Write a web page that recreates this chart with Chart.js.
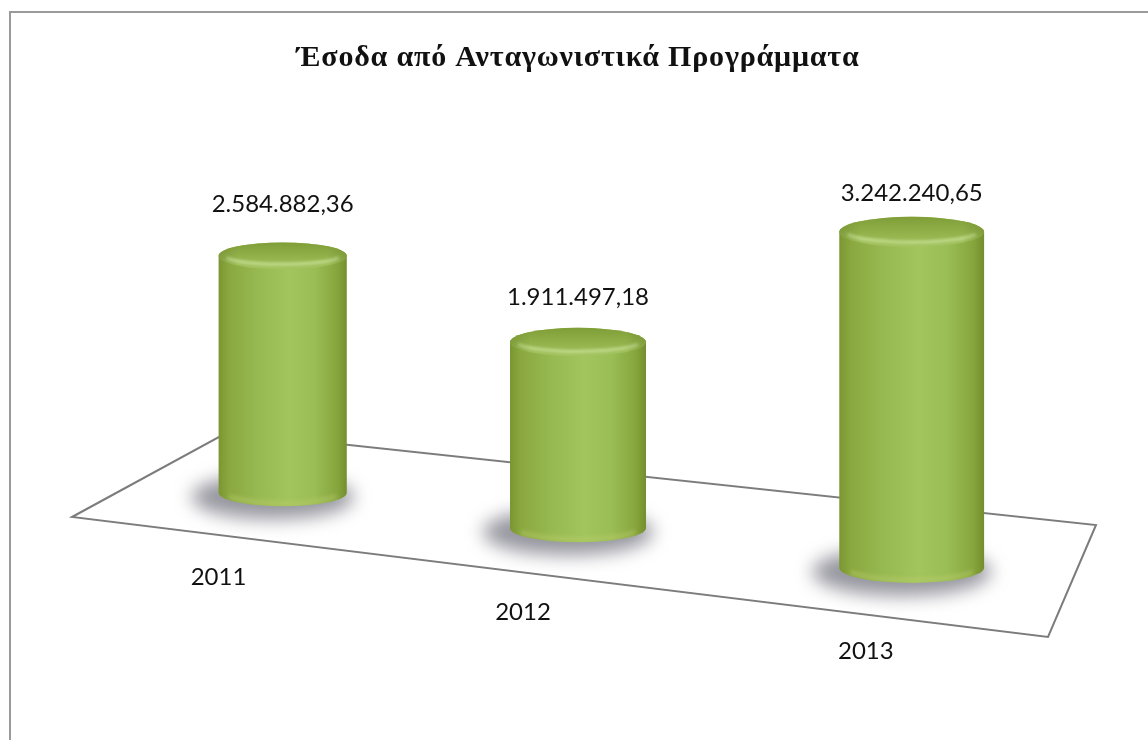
<!DOCTYPE html>
<html lang="el">
<head>
<meta charset="utf-8">
<title>Έσοδα από Ανταγωνιστικά Προγράμματα</title>
<script src="https://cdn.jsdelivr.net/npm/chart.js@4.4.1/dist/chart.umd.min.js"></script>
<style>
  html, body { margin: 0; padding: 0; background: #ffffff; }
  #wrap { position: relative; width: 1148px; height: 740px; }
</style>
</head>
<body>
<div id="wrap"><canvas id="chart"></canvas></div>
<script>
// Revenue per year
const years = ['2011', '2012', '2013'];
const revenue = [2584882.36, 1911497.18, 3242240.65];
const titleText = 'Έσοδα από Ανταγωνιστικά Προγράμματα';
const yMax = 4000000;

// Greek number format: 2.584.882,36
function formatEl(v) {
  const [intPart, dec] = v.toFixed(2).split('.');
  return intPart.replace(/\B(?=(\d{3})+(?!\d))/g, '.') + ',' + dec;
}

// Simple perspective: the row of cylinders recedes toward the left.
const VIEW = {
  depthSlope: 1.947e-4,   // depth change per pixel along the row
  horizonY: -84,          // vanishing height of the floor
  ellipse: 0.105,         // ellipse height / cylinder width
  floor: [[72, 517], [228, 432], [1096, 525], [1048, 637]]
};

function drawFrame(ctx) {
  ctx.save();
  ctx.strokeStyle = '#9a9a9a';
  ctx.lineWidth = 2;
  ctx.strokeRect(10, 12, 1200, 800);
  ctx.restore();
}

function drawFloor(ctx) {
  const f = VIEW.floor;
  ctx.save();
  ctx.beginPath();
  ctx.moveTo(f[0][0], f[0][1]);
  for (let i = 1; i < f.length; i++) ctx.lineTo(f[i][0], f[i][1]);
  ctx.closePath();
  ctx.fillStyle = '#ffffff';
  ctx.fill();
  ctx.strokeStyle = '#7c7c7c';
  ctx.lineWidth = 2;
  ctx.lineJoin = 'miter';
  ctx.stroke();
  ctx.restore();
}

function drawCylinder(ctx, cx, by, w, h) {
  const rx = w / 2, ry = w * VIEW.ellipse;
  const ty = by - h;

  // soft shadow on the floor
  ctx.save();
  ctx.filter = 'blur(9px)';
  ctx.fillStyle = 'rgba(105,105,118,0.7)';
  ctx.beginPath();
  ctx.ellipse(cx - 10, by + 4, rx + 17, ry + 9, 0, 0, Math.PI * 2);
  ctx.fill();
  ctx.restore();

  // body
  const g = ctx.createLinearGradient(cx - rx, 0, cx + rx, 0);
  g.addColorStop(0.00, '#7a9632');
  g.addColorStop(0.08, '#8aa83f');
  g.addColorStop(0.30, '#97b951');
  g.addColorStop(0.55, '#a2c55e');
  g.addColorStop(0.75, '#9abd55');
  g.addColorStop(0.93, '#86a43c');
  g.addColorStop(1.00, '#738f2d');
  ctx.save();
  ctx.beginPath();
  ctx.moveTo(cx - rx, ty);
  ctx.lineTo(cx - rx, by);
  ctx.ellipse(cx, by, rx, ry, 0, Math.PI, 0, true);
  ctx.lineTo(cx + rx, ty);
  ctx.ellipse(cx, ty, rx, ry, 0, 0, Math.PI, true);
  ctx.closePath();
  ctx.fillStyle = g;
  ctx.fill();

  // warm rim along the bottom edge
  ctx.clip();
  ctx.filter = 'blur(2px)';
  ctx.strokeStyle = 'rgba(190,205,110,0.55)';
  ctx.lineWidth = 4;
  ctx.beginPath();
  ctx.ellipse(cx, by - 2, rx - 4, ry - 1, 0, 0.15 * Math.PI, 0.85 * Math.PI);
  ctx.stroke();
  ctx.restore();

  // top face
  const tg = ctx.createLinearGradient(0, ty - ry, 0, ty + ry);
  tg.addColorStop(0.0, '#809e38');
  tg.addColorStop(0.55, '#93b24b');
  tg.addColorStop(1.0, '#a3c460');
  ctx.save();
  ctx.beginPath();
  ctx.ellipse(cx, ty, rx, ry, 0, 0, Math.PI * 2);
  ctx.fillStyle = tg;
  ctx.fill();
  ctx.clip();
  // bevel highlight near the front edge
  ctx.filter = 'blur(1.5px)';
  ctx.strokeStyle = 'rgba(200,225,150,0.9)';
  ctx.lineWidth = 3;
  ctx.beginPath();
  ctx.ellipse(cx, ty - 1, rx - 5, ry - 4, 0, 0.1 * Math.PI, 0.9 * Math.PI);
  ctx.stroke();
  // subtle shading at the sides of the lid
  const sg = ctx.createLinearGradient(cx - rx, 0, cx + rx, 0);
  sg.addColorStop(0, 'rgba(90,115,30,0.3)');
  sg.addColorStop(0.15, 'rgba(90,115,30,0)');
  sg.addColorStop(0.85, 'rgba(90,115,30,0)');
  sg.addColorStop(1, 'rgba(90,115,30,0.3)');
  ctx.filter = 'none';
  ctx.fillStyle = sg;
  ctx.fillRect(cx - rx, ty - ry, 2 * rx, 2 * ry);
  ctx.restore();

  return { top: ty - ry };
}

const cylinderPlugin = {
  id: 'cylinders',
  beforeDraw(chart) {
    // slightly tracked title lettering
    chart.ctx.letterSpacing = '0.8px';
  },
  beforeDatasetsDraw(chart) {
    const ctx = chart.ctx;
    ctx.letterSpacing = '0px';
    drawFrame(ctx);
    drawFloor(ctx);
  },
  afterDatasetsDraw(chart) {
    const ctx = chart.ctx;
    const area = chart.chartArea;
    const midX = (area.left + area.right) / 2;
    const meta = chart.getDatasetMeta(0);
    meta.data.forEach((bar, i) => {
      const p = bar.getProps(['x', 'y', 'base', 'width'], true);
      const z = 1 - VIEW.depthSlope * (p.x - midX);
      const sx = midX + (p.x - midX) / z;
      const floorY = VIEW.horizonY + (p.base - VIEW.horizonY) / z;
      const w = p.width / z;
      const h = (p.base - p.y) / z;
      const cyl = drawCylinder(ctx, sx, floorY, w, h);

      ctx.save();
      ctx.fillStyle = '#111111';
      ctx.font = '24px Lato, "Open Sans", sans-serif';
      ctx.textAlign = 'center';
      ctx.textBaseline = 'middle';
      // value label above the lid
      ctx.fillText(formatEl(chart.data.datasets[0].data[i]), sx, cyl.top - (31 + 115 * (z - 1)));
      // year label in front of the floor
      ctx.fillText(chart.data.labels[i], sx - 55 - 150 * (z - 1), floorY + 84);
      ctx.restore();
    });
  }
};

new Chart(document.getElementById('chart'), {
  type: 'bar',
  data: {
    labels: years,
    datasets: [{
      label: titleText,
      data: revenue,
      backgroundColor: 'rgba(0,0,0,0)',
      borderWidth: 0,
      barPercentage: 1,
      categoryPercentage: 0.434
    }]
  },
  options: {
    responsive: true,
    maintainAspectRatio: false,
    animation: false,
    events: [],
    layout: { padding: { left: 108, right: 100, top: 40, bottom: 212 } },
    scales: {
      x: { display: false, offset: true },
      y: { display: false, min: 0, max: yMax }
    },
    plugins: {
      legend: { display: false },
      tooltip: { enabled: false },
      title: {
        display: true,
        text: titleText,
        color: '#111111',
        font: { family: '"Liberation Serif", "Times New Roman", serif', size: 30, weight: 'bold' },
        padding: { top: 0, bottom: 63 }
      }
    }
  },
  plugins: [cylinderPlugin]
});
</script>
</body>
</html>
